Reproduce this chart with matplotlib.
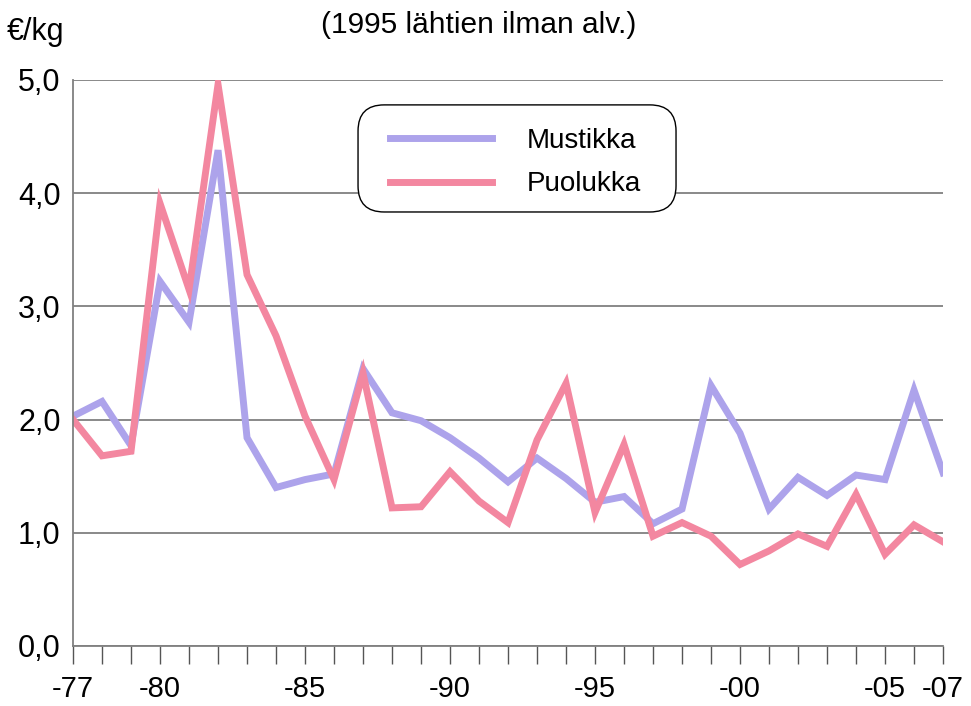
import matplotlib.pyplot as plt
import matplotlib.patches as mpatches
import numpy as np

plt.rcParams['font.family'] = ['Liberation Sans', 'DejaVu Sans']

# hinta euroa/kg, 1977-2007
years = np.arange(1977, 2008)
mustikka = [2.03, 2.16, 1.77, 3.22, 2.86, 4.38, 1.84, 1.40, 1.47, 1.52,
            2.45, 2.06, 1.99, 1.84, 1.66, 1.45, 1.66, 1.48, 1.27, 1.32,
            1.08, 1.21, 2.30, 1.88, 1.21, 1.49, 1.33, 1.51, 1.47, 2.26, 1.53]
puolukka = [2.00, 1.68, 1.72, 3.91, 3.15, 4.96, 3.28, 2.74, 2.03, 1.47,
            2.41, 1.22, 1.23, 1.54, 1.28, 1.09, 1.82, 2.32, 1.18, 1.78,
            0.97, 1.09, 0.97, 0.72, 0.84, 0.99, 0.88, 1.34, 0.81, 1.07, 0.92]
label_years = {1977: '-77', 1980: '-80', 1985: '-85', 1990: '-90',
               1995: '-95', 2000: '-00', 2005: '-05', 2007: '-07'}
y_ticks = [0, 1, 2, 3, 4, 5]

fig = plt.figure(figsize=(9.71, 7.06), dpi=100)
ax = fig.add_axes([0.0752, 0.085, 0.896, 0.8017])

ax.plot(years, mustikka, color='#ada3eb', lw=5, label='Mustikka', solid_joinstyle='miter')
ax.plot(years, puolukka, color='#f387a0', lw=5, label='Puolukka', solid_joinstyle='miter')

ax.set_xlim(1977, 2007)
ax.set_ylim(0, 5)
ax.set_yticks(y_ticks)
ax.set_yticklabels([f'{v:.1f}'.replace('.', ',') for v in y_ticks])
ax.set_xticks(years)
ax.set_xticklabels([label_years.get(y, '') for y in years])

ax.grid(axis='y', color='#808080', lw=1.3)
ax.set_axisbelow(True)
for s in ['top', 'right']:
    ax.spines[s].set_visible(False)
for s in ['left', 'bottom']:
    ax.spines[s].set_color('#808080')
    ax.spines[s].set_linewidth(1.3)

ax.tick_params(axis='y', length=0, pad=9, labelsize=22)
ax.tick_params(axis='x', length=13, width=1, color='#555555', pad=8, labelsize=21)

# legend frame drawn separately (pyöristetyt kulmat)
frame = mpatches.FancyBboxPatch((0.3276, 0.7668), 0.3655, 0.1892,
                                boxstyle='round,pad=0,rounding_size=0.03',
                                mutation_aspect=870 / 566,
                                transform=ax.transAxes, facecolor='white',
                                edgecolor='black', lw=1, zorder=4)
ax.add_patch(frame)
leg = ax.legend(loc='upper left', bbox_to_anchor=(0.3644, 0.915), fontsize=20,
                borderaxespad=0, borderpad=0, handlelength=3.67,
                handletextpad=1.26, labelspacing=0.62, frameon=False)
leg.set_zorder(5)

fig.text(479 / 971, 1 - 25 / 706, '(1995 lähtien ilman alv.)', ha='center',
         va='center', fontsize=21.5)
fig.text(7 / 971, 1 - 32 / 706, '€/kg', ha='left', va='center', fontsize=22)

fig.savefig('out.png', dpi=100)
